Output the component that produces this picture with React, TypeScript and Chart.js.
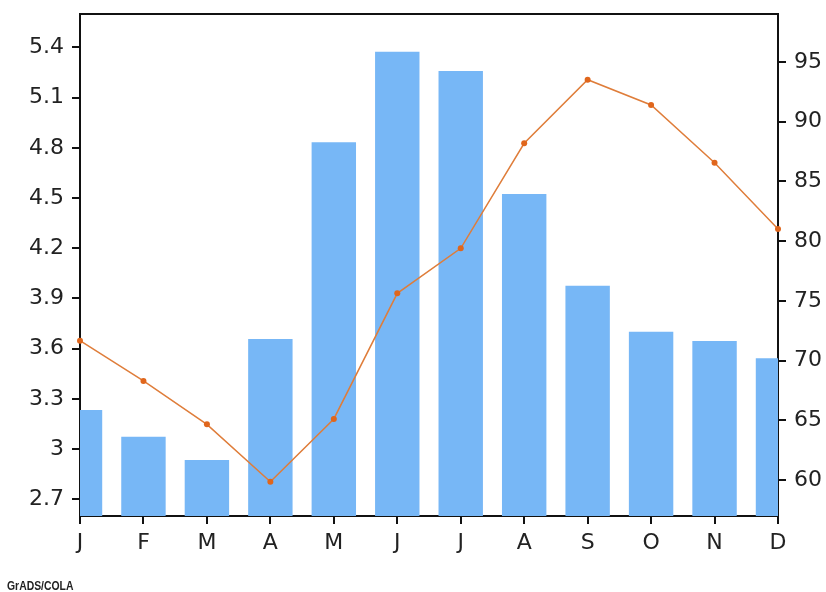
import React, { useEffect, useRef } from "react";
import { Chart, registerables } from "chart.js";

Chart.register(...registerables);

const MONTHS = ["J", "F", "M", "A", "M", "J", "J", "A", "S", "O", "N", "D"];
const BAR_VALUES = [3.233, 3.074, 2.935, 3.658, 4.833, 5.375, 5.259, 4.524, 3.976, 3.701, 3.646, 3.542];
const LINE_VALUES = [71.67, 68.3, 64.67, 59.87, 65.12, 75.63, 79.4, 88.18, 93.5, 91.39, 86.56, 81.01];
const LEFT_TICKS = [2.7, 3.0, 3.3, 3.6, 3.9, 4.2, 4.5, 4.8, 5.1, 5.4];
const RIGHT_TICKS = [60, 65, 70, 75, 80, 85, 90, 95];

const FONT = "'DejaVu Sans', sans-serif";
const TICK_LEN = 8;

const framePlugin = {
  id: "frame",
  afterDraw(chart: any) {
    const { ctx, chartArea } = chart;
    const { left, right, top, bottom } = chartArea;
    ctx.save();
    ctx.strokeStyle = "#111";
    ctx.lineWidth = 2;
    ctx.beginPath();
    ctx.moveTo(left - 1, top);
    ctx.lineTo(right + 1, top);
    ctx.stroke();
    ctx.restore();
    // tick marks
    ctx.save();
    ctx.fillStyle = "#111";
    const y = chart.scales.y;
    LEFT_TICKS.forEach((v) => {
      const p = Math.round(y.getPixelForValue(v));
      ctx.fillRect(left - TICK_LEN, p - 1, TICK_LEN, 2);
    });
    const y2 = chart.scales.y2;
    RIGHT_TICKS.forEach((v) => {
      const p = Math.round(y2.getPixelForValue(v));
      ctx.fillRect(right, p - 1, TICK_LEN, 2);
    });
    const x = chart.scales.x;
    MONTHS.forEach((_, i) => {
      const p = Math.round(x.getPixelForValue(i));
      ctx.fillRect(p - 1, bottom, 2, TICK_LEN);
    });
    ctx.restore();
    ctx.save();
    ctx.fillStyle = "#222";
    ctx.font = "bold 13px 'Liberation Sans', sans-serif";
    ctx.textBaseline = "alphabetic";
    ctx.translate(7, 590);
    ctx.scale(0.8, 1);
    ctx.fillText("GrADS/COLA", 0, 0);
    ctx.restore();
  },
};

function zeroPad(scale: any) {
  scale.paddingTop = 0;
  scale.paddingBottom = 0;
  scale.paddingLeft = 0;
  scale.paddingRight = 0;
}

export default function App() {
  const ref = useRef<HTMLCanvasElement | null>(null);
  useEffect(() => {
    if (!ref.current) return;
    const chart = new Chart(ref.current, {
      type: "bar",
      data: {
        labels: MONTHS,
        datasets: [
          {
            type: "line",
            data: LINE_VALUES,
            yAxisID: "y2",
            borderColor: "#df7d3a",
            borderWidth: 1.5,
            pointRadius: 3,
            pointBackgroundColor: "#e0661c",
            pointBorderWidth: 0,
            tension: 0,
            order: 0,
          } as any,
          {
            type: "bar",
            data: BAR_VALUES,
            yAxisID: "y",
            backgroundColor: "#77b7f6",
            borderWidth: 0,
            barPercentage: 0.7,
            categoryPercentage: 1,
            order: 1,
          },
        ],
      },
      options: {
        responsive: false,
        animation: false,
        layout: { padding: { top: 14, left: 0, right: 0, bottom: 0 } },
        plugins: { legend: { display: false }, tooltip: { enabled: false } },
        scales: {
          x: {
            type: "category",
            offset: false,
            grid: { display: false, tickLength: 8 },
            border: { display: true, color: "#111", width: 2 },
            ticks: { color: "#222", font: { family: FONT, size: 22 }, padding: 6, autoSkip: false, maxRotation: 0 },
            afterFit(scale: any) {
              scale.height = 76;
              zeroPad(scale);
            },
          },
          y: {
            position: "left",
            min: 2.6,
            max: 5.6,
            grid: { display: false, tickLength: 8 },
            border: { display: true, color: "#111", width: 2 },
            ticks: {
              color: "#222",
              font: { family: FONT, size: 22 },
              padding: 8,
              callback: (v: any) => String(Math.round(Number(v) * 10) / 10),
            },
            afterBuildTicks(scale: any) {
              scale.ticks = LEFT_TICKS.map((v) => ({ value: v }));
            },
            afterFit(scale: any) {
              scale.width = 80;
              zeroPad(scale);
            },
          },
          y2: {
            position: "right",
            min: 57,
            max: 99,
            grid: { display: false, tickLength: 8 },
            border: { display: true, color: "#111", width: 2 },
            ticks: {
              color: "#222",
              font: { family: FONT, size: 22 },
              padding: 8,
              callback: (v: any) => String(v),
            },
            afterBuildTicks(scale: any) {
              scale.ticks = RIGHT_TICKS.map((v) => ({ value: v }));
            },
            afterFit(scale: any) {
              scale.width = 48;
              zeroPad(scale);
            },
          },
        },
      },
      plugins: [framePlugin],
    });
    return () => chart.destroy();
  }, []);
  return (
    <div style={{ position: "fixed", left: 0, top: 0, width: 826, height: 592, background: "#fff" }}>
      <canvas ref={ref} width={826} height={592} style={{ display: "block" }} />
    </div>
  );
}
